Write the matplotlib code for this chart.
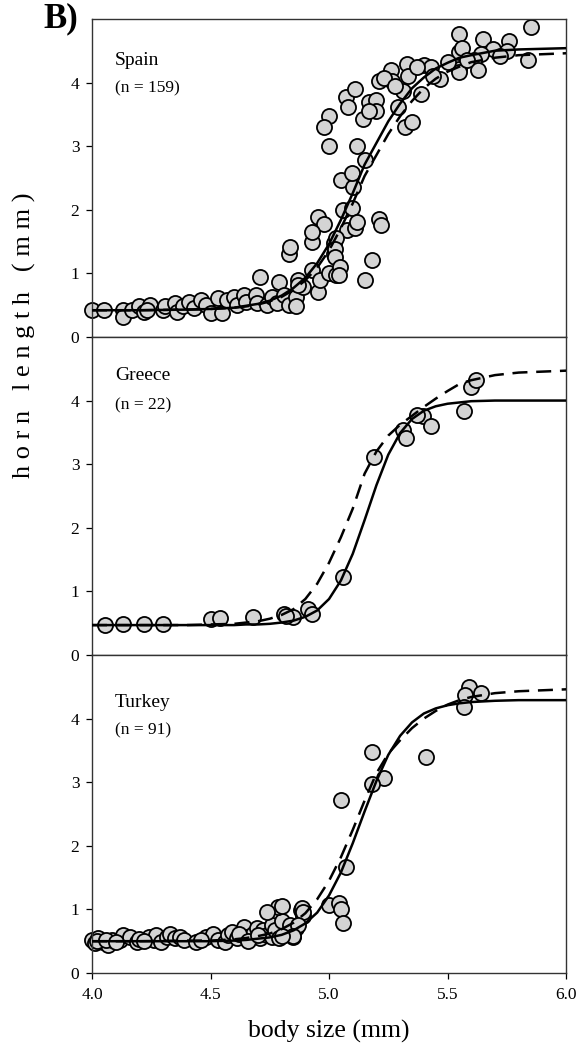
import numpy as np
import matplotlib.pyplot as plt

plt.rcParams['font.family'] = ['Liberation Serif', 'DejaVu Serif']

curve_x = [4.0, 4.2, 4.4, 4.5, 4.6, 4.65, 4.7, 4.75, 4.8, 4.85, 4.9, 4.95, 5.0, 5.05,
           5.1, 5.15, 5.2, 5.25, 5.3, 5.35, 5.4, 5.45, 5.5, 5.55, 5.6, 5.7, 5.8, 6.0]

spain_solid = [0.42, 0.42, 0.43, 0.44, 0.46, 0.49, 0.52, 0.57, 0.65, 0.77, 0.93, 1.16, 1.46, 1.84,
               2.26, 2.71, 3.05, 3.39, 3.67, 3.91, 4.08, 4.22, 4.31, 4.39, 4.43, 4.50, 4.52, 4.54]
spain_dash = [0.42, 0.42, 0.43, 0.44, 0.46, 0.48, 0.51, 0.56, 0.63, 0.74, 0.89, 1.09, 1.36, 1.71,
              2.10, 2.53, 2.86, 3.19, 3.47, 3.71, 3.91, 4.06, 4.17, 4.25, 4.32, 4.39, 4.43, 4.46]

greece_solid = [0.47, 0.47, 0.47, 0.47, 0.47, 0.48, 0.48, 0.49, 0.51, 0.54, 0.60, 0.70, 0.88, 1.17,
                1.59, 2.12, 2.67, 3.15, 3.49, 3.71, 3.84, 3.91, 3.95, 3.97, 3.99, 4.0, 4.0, 4.0]
greece_dash = [0.47, 0.47, 0.47, 0.48, 0.49, 0.51, 0.53, 0.57, 0.63, 0.72, 0.88, 1.12, 1.45, 1.85,
               2.30, 2.85, 3.20, 3.45, 3.62, 3.76, 3.90, 4.03, 4.15, 4.26, 4.32, 4.40, 4.44, 4.47]

turkey_solid = [0.50, 0.50, 0.50, 0.50, 0.51, 0.52, 0.54, 0.56, 0.60, 0.67, 0.78, 0.95, 1.22, 1.58,
                2.04, 2.54, 3.02, 3.43, 3.73, 3.94, 4.08, 4.16, 4.21, 4.24, 4.26, 4.28, 4.29, 4.29]
turkey_dash = [0.50, 0.50, 0.51, 0.51, 0.53, 0.55, 0.58, 0.62, 0.69, 0.79, 0.94, 1.16, 1.45, 1.82,
               2.25, 2.71, 3.14, 3.45, 3.66, 3.85, 4.00, 4.12, 4.22, 4.29, 4.34, 4.40, 4.43, 4.46]

# individual beetles
spain_x = [4.00, 4.05, 4.13, 4.13, 4.17, 4.20, 4.22, 4.245, 4.23, 4.30, 4.31, 4.35, 4.36, 4.385,
           4.41, 4.43, 4.46, 4.48, 4.50, 4.53, 4.55, 4.57, 4.60, 4.61, 4.64, 4.65, 4.69, 4.71,
           4.695, 4.74, 4.76, 4.78, 4.79, 4.81, 4.83, 4.86, 4.86, 4.87, 4.89, 4.93, 4.955, 4.96,
           5.00, 5.03, 4.83, 4.835, 4.93, 5.02, 5.02, 5.00, 4.98, 5.00, 5.07, 5.11, 5.08, 5.145,
           5.12, 5.17, 5.20, 5.21, 5.26, 5.265, 5.33, 5.335, 5.40, 5.39, 5.31, 5.29, 5.32, 5.35,
           5.20, 5.15, 5.05, 5.10, 5.095, 5.06, 5.095, 4.955, 4.98, 4.93, 5.075, 5.11, 5.12, 5.21,
           5.22, 5.03, 5.025, 5.025, 5.045, 5.04, 5.18, 5.15, 4.87, 5.55, 5.65, 5.76, 5.85, 5.84,
           5.55, 5.56, 5.69, 5.75, 5.72, 5.64, 5.61, 5.63, 5.55, 5.55, 5.50, 5.47, 5.43, 5.44,
           5.37, 5.23, 5.58, 5.28, 5.17]
spain_y = [0.42, 0.42, 0.42, 0.32, 0.42, 0.48, 0.40, 0.50, 0.42, 0.42, 0.48, 0.53, 0.40, 0.48,
           0.55, 0.45, 0.58, 0.50, 0.37, 0.61, 0.37, 0.58, 0.63, 0.50, 0.66, 0.55, 0.66, 0.95,
           0.53, 0.50, 0.63, 0.53, 0.87, 0.66, 0.50, 0.63, 0.48, 0.89, 0.79, 1.05, 0.71, 0.89,
           1.00, 0.97, 1.31, 1.42, 1.50, 1.31, 1.47, 3.48, 3.30, 3.00, 3.77, 3.90, 3.61, 3.43,
           3.00, 3.69, 3.72, 4.03, 4.19, 4.03, 4.29, 4.11, 4.27, 3.82, 3.87, 3.61, 3.30, 3.38,
           3.56, 2.78, 2.47, 2.36, 2.57, 1.99, 2.02, 1.89, 1.78, 1.65, 1.68, 1.71, 1.81, 1.86,
           1.76, 1.55, 1.39, 1.26, 1.10, 0.97, 1.21, 0.90, 0.82, 4.76, 4.69, 4.66, 4.88, 4.36,
           4.48, 4.55, 4.53, 4.50, 4.42, 4.45, 4.35, 4.20, 4.21, 4.16, 4.32, 4.06, 4.24, 4.10,
           4.25, 4.07, 4.35, 3.95, 3.55]

greece_x = [4.055, 4.13, 4.22, 4.30, 4.50, 4.54, 4.68, 4.81, 4.85, 4.91, 4.93, 5.06, 5.19,
            5.31, 5.325, 5.395, 5.43, 5.57, 5.60, 5.62, 5.37, 4.82]
greece_y = [0.47, 0.48, 0.48, 0.48, 0.56, 0.58, 0.59, 0.64, 0.59, 0.73, 0.64, 1.23, 3.11,
            3.54, 3.41, 3.76, 3.60, 3.83, 4.21, 4.32, 3.78, 0.62]

turkey_x = [4.00, 4.013, 4.027, 4.048, 4.069, 4.083, 4.118, 4.13, 4.16, 4.19, 4.24, 4.26, 4.27,
            4.29, 4.315, 4.33, 4.35, 4.37, 4.39, 4.44, 4.48, 4.51, 4.53, 4.56, 4.575, 4.59, 4.61,
            4.64, 4.65, 4.68, 4.695, 4.71, 4.72, 4.74, 4.76, 4.76, 4.77, 4.79, 4.80, 4.785, 4.74,
            4.83, 4.85, 4.86, 4.88, 4.89, 4.835, 4.02, 4.06, 4.10, 4.20, 4.22, 4.46, 4.62, 4.66,
            4.70, 5.59, 5.64, 5.575, 5.57, 5.18, 5.41, 5.23, 5.18, 5.05, 5.07, 5.00, 5.04, 5.05,
            5.06, 4.80, 4.885, 4.89, 4.87, 4.85, 4.80]
turkey_y = [0.52, 0.47, 0.545, 0.49, 0.44, 0.52, 0.52, 0.60, 0.57, 0.49, 0.57, 0.52, 0.60,
            0.49, 0.57, 0.62, 0.545, 0.57, 0.52, 0.49, 0.57, 0.62, 0.52, 0.49, 0.60, 0.65, 0.545,
            0.73, 0.57, 0.62, 0.70, 0.545, 0.68, 0.60, 0.75, 0.57, 0.68, 0.545, 0.81, 1.04, 0.96,
            0.62, 0.57, 0.70, 0.99, 0.89, 0.75, 0.50, 0.52, 0.48, 0.53, 0.50, 0.52, 0.62, 0.50,
            0.60, 4.50, 4.41, 4.37, 4.19, 3.48, 3.39, 3.06, 2.97, 2.72, 1.66, 1.07, 1.10, 1.00,
            0.79, 1.05, 1.02, 0.96, 0.75, 0.58, 0.58]

panels = [
    ("Spain", "(n = 159)", spain_x, spain_y, spain_solid, spain_dash, 0.868, 0.780),
    ("Greece", "(n = 22)", greece_x, greece_y, greece_solid, greece_dash, 0.880, 0.786),
    ("Turkey", "(n = 91)", turkey_x, turkey_y, turkey_solid, turkey_dash, 0.852, 0.764),
]

fig = plt.figure(figsize=(5.8, 10.51), dpi=100)

left, width, h = 0.1586, 0.8174, 0.3026
bottoms = [0.0742 + 2 * h, 0.0742 + h, 0.0742]

for i, (name, nlab, px, py, solid, dash, ty1, ty2) in enumerate(panels):
    ax = fig.add_axes([left, bottoms[i], width, h])
    ax.scatter(px, py, s=118, facecolor='#d4d4d4', edgecolor='black', linewidth=1.3,
               zorder=2, clip_on=False)
    ax.plot(curve_x, solid, color='black', lw=1.8, zorder=3)
    ax.plot(curve_x, dash, color='black', lw=1.8, dashes=(6, 3.5), zorder=3)

    ax.set_xlim(4.0, 6.0)
    ax.set_ylim(0, 5)
    ax.set_yticks([0, 1, 2, 3, 4])
    ax.tick_params(axis='y', direction='out', length=4, width=0.9, labelsize=12.5, pad=5)
    for sp in ax.spines.values():
        sp.set_linewidth(1.0)
        sp.set_color('#333333')

    if i < 2:
        ax.tick_params(axis='x', bottom=False, labelbottom=False)
    else:
        ax.set_xticks([4.0, 4.5, 5.0, 5.5, 6.0])
        ax.set_xticklabels(['4.0', '4.5', '5.0', '5.5', '6.0'])
        ax.tick_params(axis='x', direction='out', length=4, width=0.9, labelsize=12.5, pad=6)
        ax.set_xlabel("body size (mm)", fontsize=18.5, labelpad=12)

    ax.text(0.0485, ty1, name, transform=ax.transAxes, fontsize=14, ha='left', va='center')
    ax.text(0.0485, ty2, nlab, transform=ax.transAxes, fontsize=12.5, ha='left', va='center')

fig.text(0.043, 0.681, "h o r n   l e n g t h   ( m m )", rotation=90,
         fontsize=19, ha='center', va='center')
fig.text(0.104, 0.982, "B)", fontsize=25, fontweight='bold', ha='center', va='center')

fig.savefig("out.png", dpi=100)
